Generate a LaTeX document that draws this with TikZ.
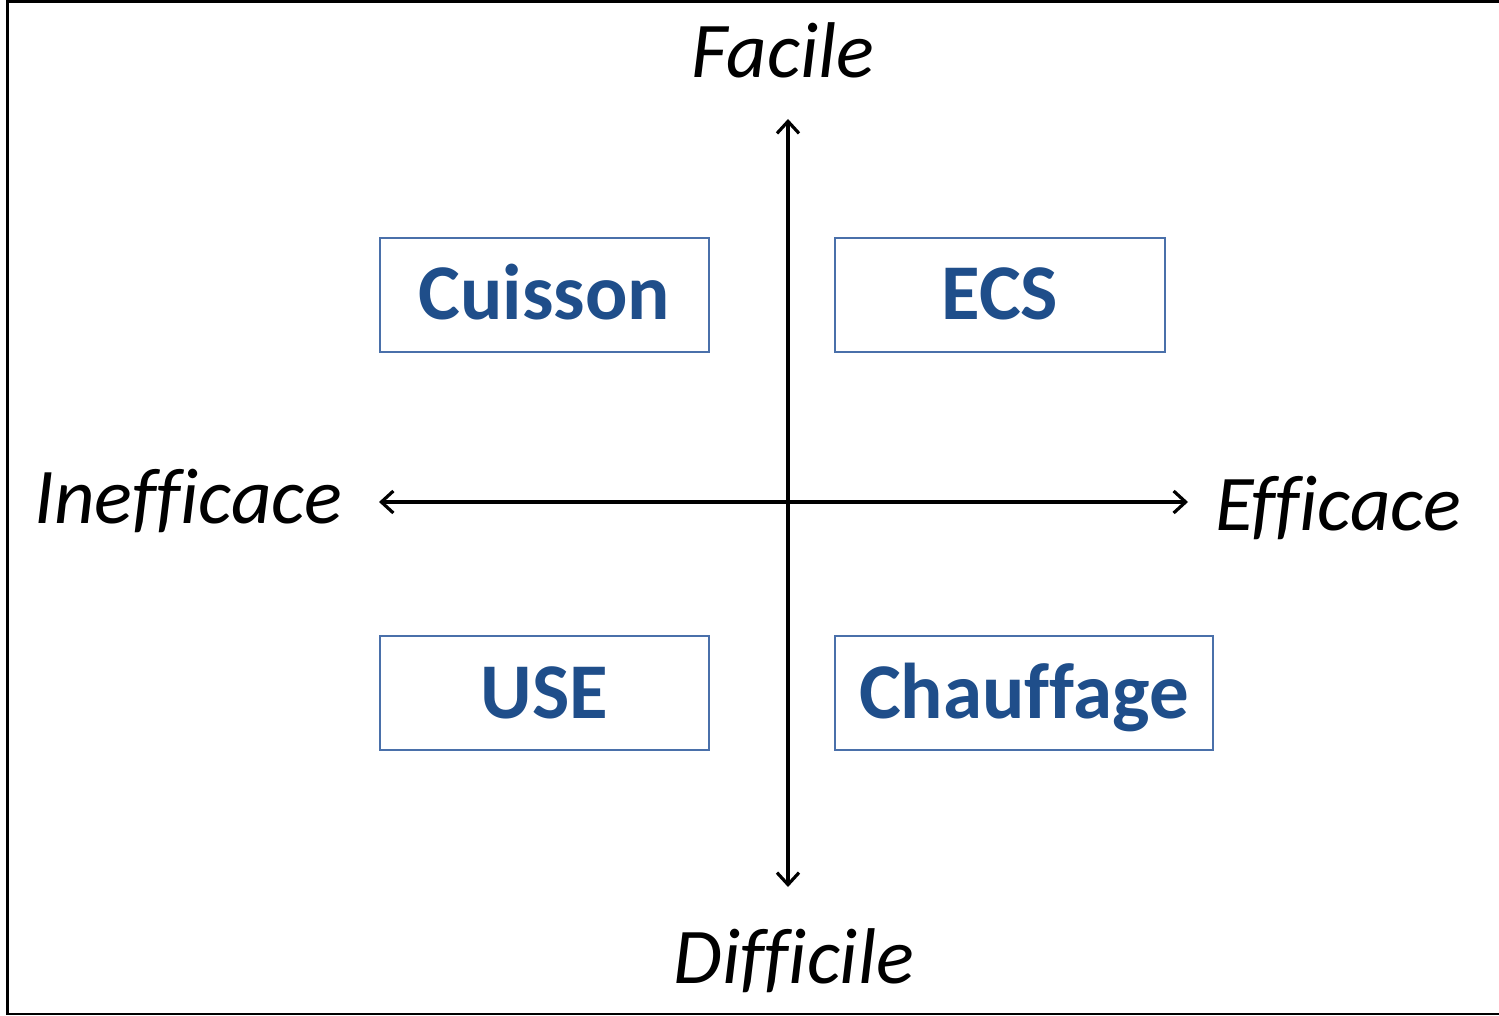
\documentclass[tikz,border=0pt]{standalone}
\usepackage{fontspec}
\setmainfont{Carlito}[Ligatures=NoCommon]
\usetikzlibrary{arrows.meta}
\definecolor{boxline}{HTML}{4A70AA}
\definecolor{boxtext}{HTML}{1F4E8A}
\begin{document}
\begin{tikzpicture}[x=0.5pt,y=-0.5pt,
  quad/.style={draw=boxline,line width=0.8pt,text=boxtext,font=\fontsize{39.5}{47}\selectfont\bfseries,
    minimum height=57pt,inner sep=0pt,text height=25pt,text depth=0pt},
  axislabel/.style={font=\fontsize{39.5}{47}\selectfont\itshape,anchor=base,inner sep=0pt},
  axis/.style={line width=1.7pt,{Straight Barb[length=6pt,width=11pt,line width=1.6pt]}-{Straight Barb[length=6pt,width=11pt,line width=1.6pt]}}]
\useasboundingbox (0,0) rectangle (1499,1016);
\draw[line width=1.4pt] (1505,1.5) -- (7.5,1.5) -- (7.5,1014) -- (1505,1014);
\coordinate (top) at (788,119);
\coordinate (bottom) at (788,887);
\coordinate (left) at (379,502);
\coordinate (right) at (1188,502);
\draw[axis] (top) -- (bottom);
\draw[axis] (left) -- (right);
\node[quad,minimum width=164.5pt] (cuisson) at (544.5,295) {Cuisson};
\node[quad,minimum width=165pt] (ecs) at (1000,295) {ECS};
\node[quad,minimum width=164.5pt] (use) at (544.5,693) {USE};
\node[quad,minimum width=189pt] (chauffage) at (1024,693) {Chauffage};
\node[axislabel] (facile) at (783,78) {Facile};
\node[axislabel] (difficile) at (794,983) {Difficile};
\node[axislabel] (inefficace) at (188,523) {Inefficace};
\node[axislabel] (efficace) at (1338,530) {Efficace};
\end{tikzpicture}
\end{document}
